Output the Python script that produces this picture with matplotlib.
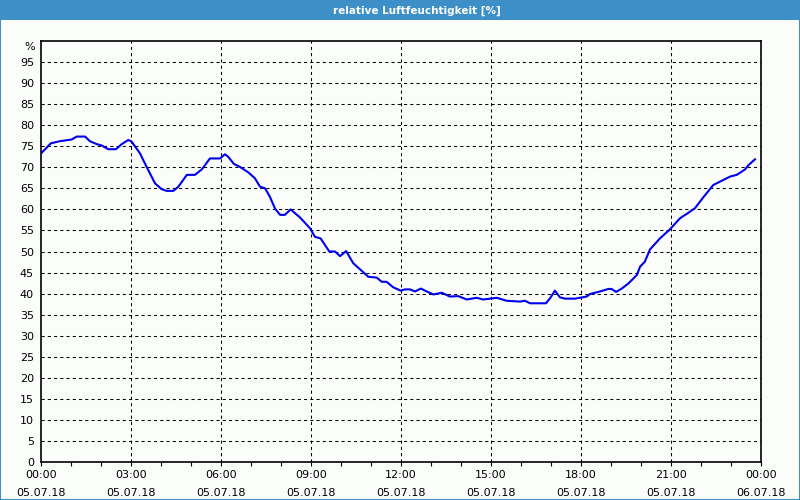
import matplotlib
matplotlib.use("Agg")
import matplotlib.pyplot as plt
from matplotlib.patches import Rectangle
from matplotlib.lines import Line2D

# ---------------- data (hours since 05.07.18 00:00, rel. humidity %)
hours = [0, 0.33, 0.63, 1.02, 1.19, 1.47, 1.63, 1.86, 2.02, 2.24, 2.5, 2.69, 2.91, 3.02,
         3.3, 3.52, 3.8, 4.02, 4.19, 4.41, 4.58, 4.86, 5.13, 5.36, 5.63, 5.97, 6.13, 6.24,
         6.43, 6.63, 6.91, 7.13, 7.3, 7.47, 7.63, 7.8, 7.97, 8.13, 8.32, 8.63, 8.97, 9.13,
         9.32, 9.61, 9.8, 9.97, 10.17, 10.41, 10.63, 10.91, 11.19, 11.36, 11.52, 11.74,
         11.99, 12.13, 12.3, 12.47, 12.66, 12.86, 13.08, 13.36, 13.63, 13.91, 14.19, 14.52,
         14.74, 15.19, 15.52, 15.97, 16.13, 16.3, 16.63, 16.83, 16.97, 17.13, 17.3, 17.47,
         17.8, 18.19, 18.3, 18.63, 18.91, 19.02, 19.17, 19.36, 19.58, 19.86, 19.97, 20.13,
         20.3, 20.63, 20.97, 21.3, 21.58, 21.8, 22.08, 22.41, 22.69, 22.97, 23.19, 23.47,
         23.58, 23.8]
humidity = [73.3, 75.7, 76.2, 76.6, 77.3, 77.3, 76.2, 75.5, 75.2, 74.3, 74.3, 75.5, 76.5, 76.1,
            73.3, 70.1, 66.2, 64.8, 64.4, 64.4, 65.4, 68.2, 68.2, 69.5, 72.1, 72.1, 73.1, 72.5,
            70.8, 70.1, 68.8, 67.4, 65.4, 65.0, 63.0, 60.2, 58.7, 58.7, 60.0, 58.1, 55.5, 53.5,
            53.1, 50.0, 50.0, 48.9, 50.1, 47.2, 45.8, 44.0, 43.8, 42.8, 42.8, 41.5,
            40.7, 41.0, 41.0, 40.5, 41.2, 40.5, 39.8, 40.2, 39.3, 39.4, 38.6, 39.0,
            38.6, 39.0, 38.3, 38.1, 38.3, 37.7, 37.7, 37.7, 38.9, 40.7, 39.1, 38.8,
            38.8, 39.3, 39.9, 40.5, 41.1, 41.1, 40.4, 41.2, 42.4, 44.4, 46.4, 47.6,
            50.5, 53.1, 55.3, 57.9, 59.2, 60.3, 62.9, 65.8, 66.8, 67.8, 68.2, 69.5,
            70.5, 71.9]

tick_hours = [0, 3, 6, 9, 12, 15, 18, 21, 24]
tick_labels = ["00:00\n05.07.18", "03:00\n05.07.18", "06:00\n05.07.18", "09:00\n05.07.18",
               "12:00\n05.07.18", "15:00\n05.07.18", "18:00\n05.07.18", "21:00\n05.07.18",
               "00:00\n06.07.18"]
title = "relative Luftfeuchtigkeit [%]"

bar_blue = '#3d8fc7'
bg = '#fbfdfb'

fig = plt.figure(figsize=(8, 5), dpi=100, facecolor=bg)

# title bar + frame
fig.add_artist(Rectangle((0, 0.96), 1, 0.04, transform=fig.transFigure,
                         facecolor=bar_blue, edgecolor='none'))
fig.text(0.521, 0.979, title, color='white', fontweight='bold', fontsize=7.5,
         ha='center', va='center')
for xs, ys in [([0.0006, 0.0006], [0, 0.96]), ([0.9994, 0.9994], [0, 0.96]), ([0, 1], [0.001, 0.001])]:
    fig.add_artist(Line2D(xs, ys, transform=fig.transFigure, color=bar_blue, lw=1.5))

ax = fig.add_axes([41/800, 1 - 462/500, 720/800, 421/500])
ax.set_facecolor(bg)
ax.plot(hours, humidity, color='#0000ee', lw=1.5)

ax.set_xlim(0, 24)
ax.set_ylim(0, 100)
ax.set_xticks(tick_hours)
ax.set_xticklabels(tick_labels, fontsize=8, linespacing=1.9)
ax.set_xticks(range(25), minor=True)
ax.set_yticks(range(0, 100, 5))
ax.set_yticklabels([str(v) for v in range(0, 100, 5)], fontsize=8)
ax.tick_params(axis='x', which='both', length=3, width=0.8, direction='out', pad=3)
ax.tick_params(axis='y', length=0, pad=5)

for v in range(5, 100, 5):
    ax.axhline(v, color='black', lw=0.75, linestyle=(0, (3, 3)), zorder=1)
for h in tick_hours[1:-1]:
    ax.axvline(h, color='black', lw=0.75, linestyle=(0, (3, 3)), zorder=1)

for s in ax.spines.values():
    s.set_linewidth(1.2)
    s.set_color('black')

ax.text(-0.008, 0.985, "%", transform=ax.transAxes, ha='right', va='center', fontsize=8)

fig.savefig("out.png", dpi=100, facecolor=bg)
